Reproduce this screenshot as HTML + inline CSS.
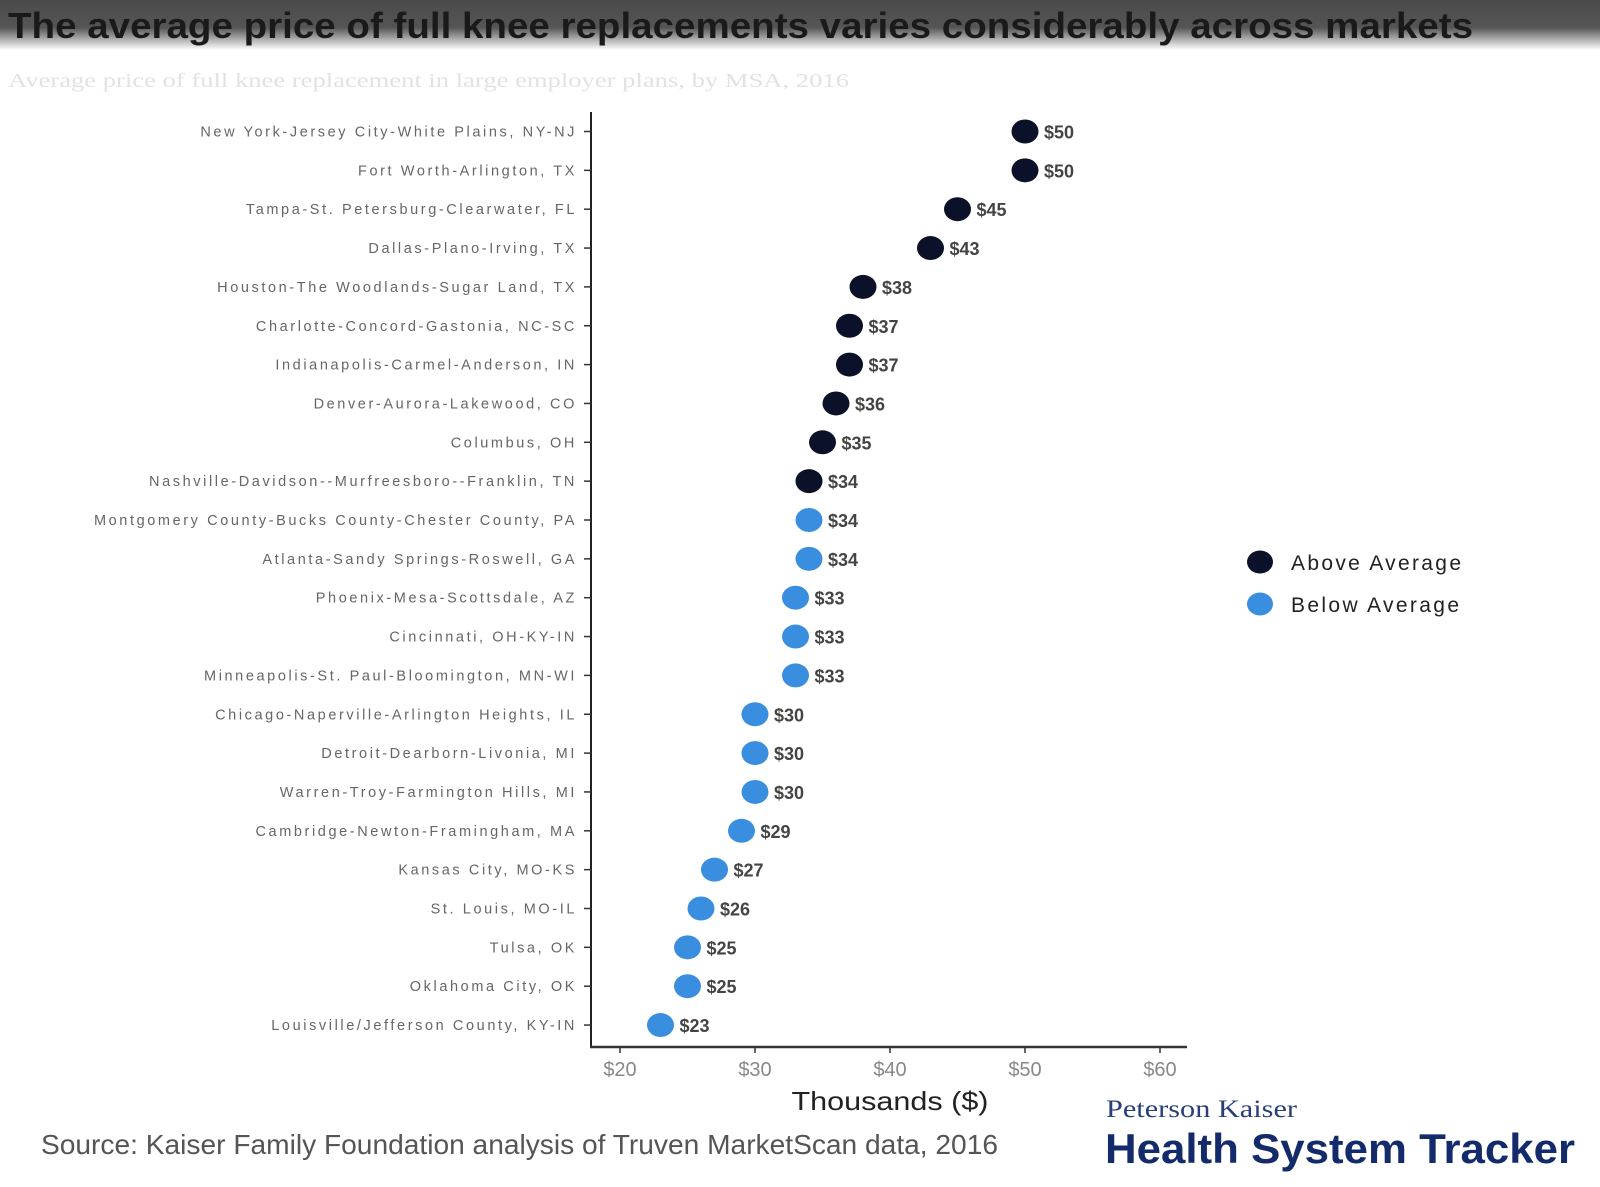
<!DOCTYPE html>
<html><head><meta charset="utf-8"><style>
html,body{margin:0;padding:0;background:#fff;width:1600px;height:1187px;overflow:hidden}
svg{display:block}
</style></head><body>
<svg id="chart" width="1600" height="1187" xmlns="http://www.w3.org/2000/svg">
<defs><linearGradient id="hdr" x1="0" y1="0" x2="0" y2="1">
<stop offset="0" stop-color="#4a4a4a"/><stop offset="0.55" stop-color="#555"/><stop offset="1" stop-color="#fff"/></linearGradient></defs>
<rect x="0" y="0" width="1600" height="50" fill="url(#hdr)"/>
<text x="8" y="38" font-family="Liberation Sans Narrow, Liberation Sans, sans-serif" font-weight="bold" font-size="36" fill="#1a1a1a" textLength="1465" lengthAdjust="spacingAndGlyphs">The average price of full knee replacements varies considerably across markets</text>
<text x="8" y="87" font-family="Liberation Serif, serif" font-size="20" fill="#e2e2e2" textLength="841" lengthAdjust="spacingAndGlyphs">Average price of full knee replacement in large employer plans, by MSA, 2016</text>
<g id="plot"></g>
<text x="890" y="1110" text-anchor="middle" font-family="Liberation Sans, sans-serif" font-size="26" fill="#222" textLength="197" lengthAdjust="spacingAndGlyphs">Thousands ($)</text>
<text x="41" y="1154" font-family="Liberation Sans Narrow, Liberation Sans, sans-serif" font-size="28" fill="#555" textLength="957" lengthAdjust="spacingAndGlyphs">Source: Kaiser Family Foundation analysis of Truven MarketScan data, 2016</text>
<text x="1106" y="1117" font-family="Liberation Serif, serif" font-size="25" fill="#2a3f7a" textLength="191" lengthAdjust="spacingAndGlyphs">Peterson Kaiser</text>
<text x="1105" y="1163" font-family="Liberation Sans, sans-serif" font-weight="bold" font-size="42" fill="#132a6b" textLength="470" lengthAdjust="spacingAndGlyphs">Health System Tracker</text>
<g>
<ellipse cx="1260" cy="562" rx="13" ry="11.5" fill="#0b1128"/>
<text x="1291" y="570" font-family="Liberation Sans, sans-serif" font-size="21" fill="#222" textLength="170" lengthAdjust="spacing">Above Average</text>
<ellipse cx="1260" cy="604" rx="13" ry="11.5" fill="#3a8ee0"/>
<text x="1291" y="612" font-family="Liberation Sans, sans-serif" font-size="21" fill="#222" textLength="168" lengthAdjust="spacing">Below Average</text>
</g>
</svg>
<script>
const categories = ["New York-Jersey City-White Plains, NY-NJ","Fort Worth-Arlington, TX","Tampa-St. Petersburg-Clearwater, FL","Dallas-Plano-Irving, TX","Houston-The Woodlands-Sugar Land, TX","Charlotte-Concord-Gastonia, NC-SC","Indianapolis-Carmel-Anderson, IN","Denver-Aurora-Lakewood, CO","Columbus, OH","Nashville-Davidson--Murfreesboro--Franklin, TN","Montgomery County-Bucks County-Chester County, PA","Atlanta-Sandy Springs-Roswell, GA","Phoenix-Mesa-Scottsdale, AZ","Cincinnati, OH-KY-IN","Minneapolis-St. Paul-Bloomington, MN-WI","Chicago-Naperville-Arlington Heights, IL","Detroit-Dearborn-Livonia, MI","Warren-Troy-Farmington Hills, MI","Cambridge-Newton-Framingham, MA","Kansas City, MO-KS","St. Louis, MO-IL","Tulsa, OK","Oklahoma City, OK","Louisville/Jefferson County, KY-IN"];
const prices = [50,50,45,43,38,37,37,36,35,34,34,34,33,33,33,30,30,30,29,27,26,25,25,23];
const aboveAverage = [1,1,1,1,1,1,1,1,1,1,0,0,0,0,0,0,0,0,0,0,0,0,0,0];
const xTicks = [20,30,40,50,60];
const xTickLabels = ["$20","$30","$40","$50","$60"];

(function(){
const NS="http://www.w3.org/2000/svg";
const plot=document.getElementById('plot');
const axisX=591, axisY=1047, plotTop=112, plotRight=1187;
const xScale=v=>620+(v-20)*13.5;
const yScale=i=>131.5+i*38.85;
function mk(tag,attrs){const e=document.createElementNS(NS,tag);for(const k in attrs)e.setAttribute(k,attrs[k]);plot.appendChild(e);return e;}
let a=mk('line',{x1:axisX,y1:plotTop,x2:axisX,y2:axisY+1,stroke:'#222','stroke-width':2});


a=mk('line',{x1:axisX-1,y1:axisY,x2:plotRight,y2:axisY,stroke:'#333','stroke-width':2.5});


xTicks.forEach((t,i)=>{
  const x=xScale(t);
  const l=mk('line',{x1:x,y1:axisY,x2:x,y2:axisY+6,stroke:'#333','stroke-width':1.5});
  
  
  const tx=mk('text',{x:x,y:1076,'text-anchor':'middle','font-family':'Liberation Sans Narrow, Liberation Sans, sans-serif','font-size':20,fill:'#888'});
  tx.textContent=xTickLabels[i];
  
  
});
categories.forEach((c,i)=>{
  const y=yScale(i);
  const l=mk('line',{x1:axisX-7,y1:y,x2:axisX,y2:y,stroke:'#333','stroke-width':1.5});
  
  
  const t=mk('text',{x:577,y:y+5,'text-anchor':'end','font-family':'Liberation Sans, sans-serif','font-size':14.5,fill:'#666','letter-spacing':'2.6'});
  t.textContent=c;
  
  
  const d=mk('ellipse',{cx:xScale(prices[i]),cy:y,rx:13.5,ry:12,fill:aboveAverage[i]?'#0b1128':'#3a8ee0'});
  
  
  const v=mk('text',{x:xScale(prices[i])+19,y:y+7,'font-family':'Liberation Sans, sans-serif','font-weight':'bold','font-size':18,fill:'#444'});
  v.textContent='$'+prices[i];
  
  
});
})();
</script>
</body></html>
